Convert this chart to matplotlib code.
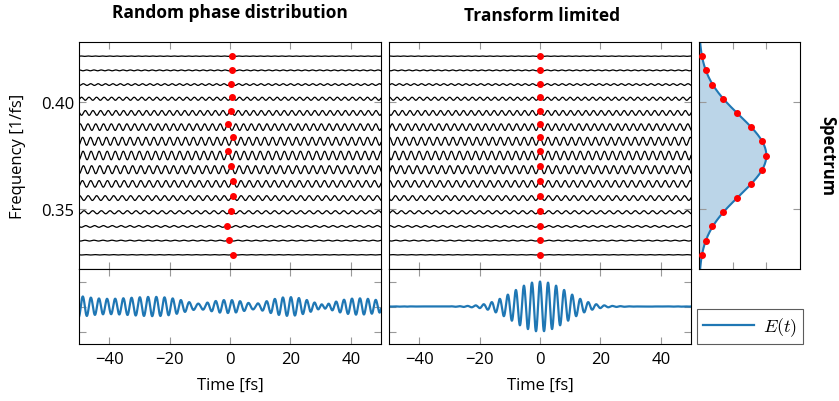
import numpy as np
import matplotlib
matplotlib.use("Agg")
from matplotlib import pyplot as plt
from matplotlib.lines import Line2D

plt.rcParams['font.family'] = ['Open Sans', 'DejaVu Sans']
plt.rcParams['mathtext.fontset'] = 'cm'
plt.rcParams['font.size'] = 12

# spectral components (ascending frequency, 1/fs)
freqs = [0.3288, 0.3354, 0.3420, 0.3486, 0.3552, 0.3618, 0.3684, 0.3750,
         0.3816, 0.3882, 0.3948, 0.4014, 0.4080, 0.4146, 0.4212]
amps = [0.044, 0.099, 0.20, 0.36, 0.56, 0.77, 0.93, 1.0,
        0.93, 0.77, 0.56, 0.36, 0.20, 0.099, 0.044]
# time of the crest nearest t=0 for each component (random phases), fs
peak_times = [0.99, -0.33, -0.99, 0.44, 0.88, 0.88, 0.33, -0.66,
              0.99, -0.66, 0.22, 0.66, 0.44, 0.77, 0.55]
# spectrum model
f_center = 0.375
f_sigma = 0.0185
xticks = [-40, -20, 0, 20, 40]

W, H = 839, 402
fig = plt.figure(figsize=(W / 100, H / 100), dpi=100)


def box(x0, y0, x1, y1):
    return [x0 / W, 1 - y1 / H, (x1 - x0) / W, (y1 - y0) / H]


def style(ax):
    ax.tick_params(direction='in', top=True, right=True, length=5,
                   color='#999999', width=0.8, labelsize=12)
    for s in ax.spines.values():
        s.set_linewidth(0.8)


f = np.array(freqs)
a = np.array(amps)
tp = np.array(peak_times)
df = f[1] - f[0]
t = np.linspace(-50, 50, 3000)
scale = 0.3 * df

ax1 = fig.add_axes(box(79, 43, 381, 270))
ax2 = fig.add_axes(box(389, 43, 691, 270), sharey=ax1)
ax3 = fig.add_axes(box(699, 43, 800, 270), sharey=ax1)
ax4 = fig.add_axes(box(79, 270, 381, 345), sharex=ax1)
ax5 = fig.add_axes(box(389, 270, 691, 345), sharex=ax2)

for ax, shifts in [(ax1, tp), (ax2, np.zeros_like(tp))]:
    for fi, ai, ti in zip(f, a, shifts):
        ax.plot(t, fi + scale * ai * np.cos(2 * np.pi * fi * (t - ti)),
                color='black', lw=0.9)
    ax.plot(shifts, f + scale * a, 'o', color='red', ms=4, zorder=5)

ax1.set_ylim(f[0] - df, f[-1] + df)
ax1.set_yticks([0.35, 0.40])
ax1.set_yticklabels(['0.35', '0.40'])
ax1.set_ylabel('Frequency [1/fs]', labelpad=11)
ax1.set_xlim(-50, 50)
ax2.set_xlim(-50, 50)
for ax in (ax1, ax2):
    ax.set_xticks(xticks)
    ax.tick_params(labelbottom=False)
ax2.tick_params(labelleft=False)

fig.text(230 / W, 1 - 18 / H, 'Random phase distribution', fontweight='bold',
         fontsize=12.5, ha='center', va='baseline')
fig.text(542 / W, 1 - 21 / H, 'Transform limited', fontweight='bold',
         fontsize=12.5, ha='center', va='baseline')

# spectrum
fs = np.linspace(f[0] - df, f[-1] + df, 400)
spec = np.exp(-(fs - f_center) ** 2 / (2 * f_sigma ** 2))
ax3.fill_betweenx(fs, 0, spec, color='#1f77b4', alpha=0.3, lw=0)
ax3.plot(spec, fs, color='#1f77b4', lw=1.5)
ax3.plot(a, f, 'o', color='red', ms=4, zorder=5)
ax3.set_xlim(0, 1.5)
ax3.set_xticks([0.5, 1.0])
ax3.tick_params(labelbottom=False, labelleft=False)
ax3.yaxis.set_label_position('right')
ax3.set_ylabel('Spectrum', rotation=270, fontweight='bold', labelpad=26)

# summed fields
norm = a.sum()
e_rand = (a[:, None] * np.cos(2 * np.pi * f[:, None] * (t - tp[:, None]))).sum(0) / norm
e_tl = (a[:, None] * np.cos(2 * np.pi * f[:, None] * t)).sum(0) / norm
ax4.plot(t, e_rand, color='#1f77b4', lw=1.6)
ax5.plot(t, e_tl, color='#1f77b4', lw=1.6)
for ax in (ax4, ax5):
    ax.set_ylim(-1.5, 1.5)
    ax.set_yticks([-1, 0, 1])
    ax.tick_params(labelleft=False, pad=5)
    ax.set_xticks(xticks)
    ax.set_xlabel('Time [fs]', labelpad=7)

for ax in (ax1, ax2, ax3, ax4, ax5):
    style(ax)

handle = Line2D([], [], color='#1f77b4', lw=1.6)
leg = fig.legend([handle], ['$E(t)$'], loc='lower left',
                 bbox_to_anchor=(697 / W, 1 - 345 / H), borderaxespad=0,
                 fancybox=False, edgecolor='#333333', handlelength=2.8,
                 handletextpad=0.5, borderpad=0.35, fontsize=13)
leg.get_frame().set_linewidth(0.8)

fig.savefig('out.png', dpi=100)
